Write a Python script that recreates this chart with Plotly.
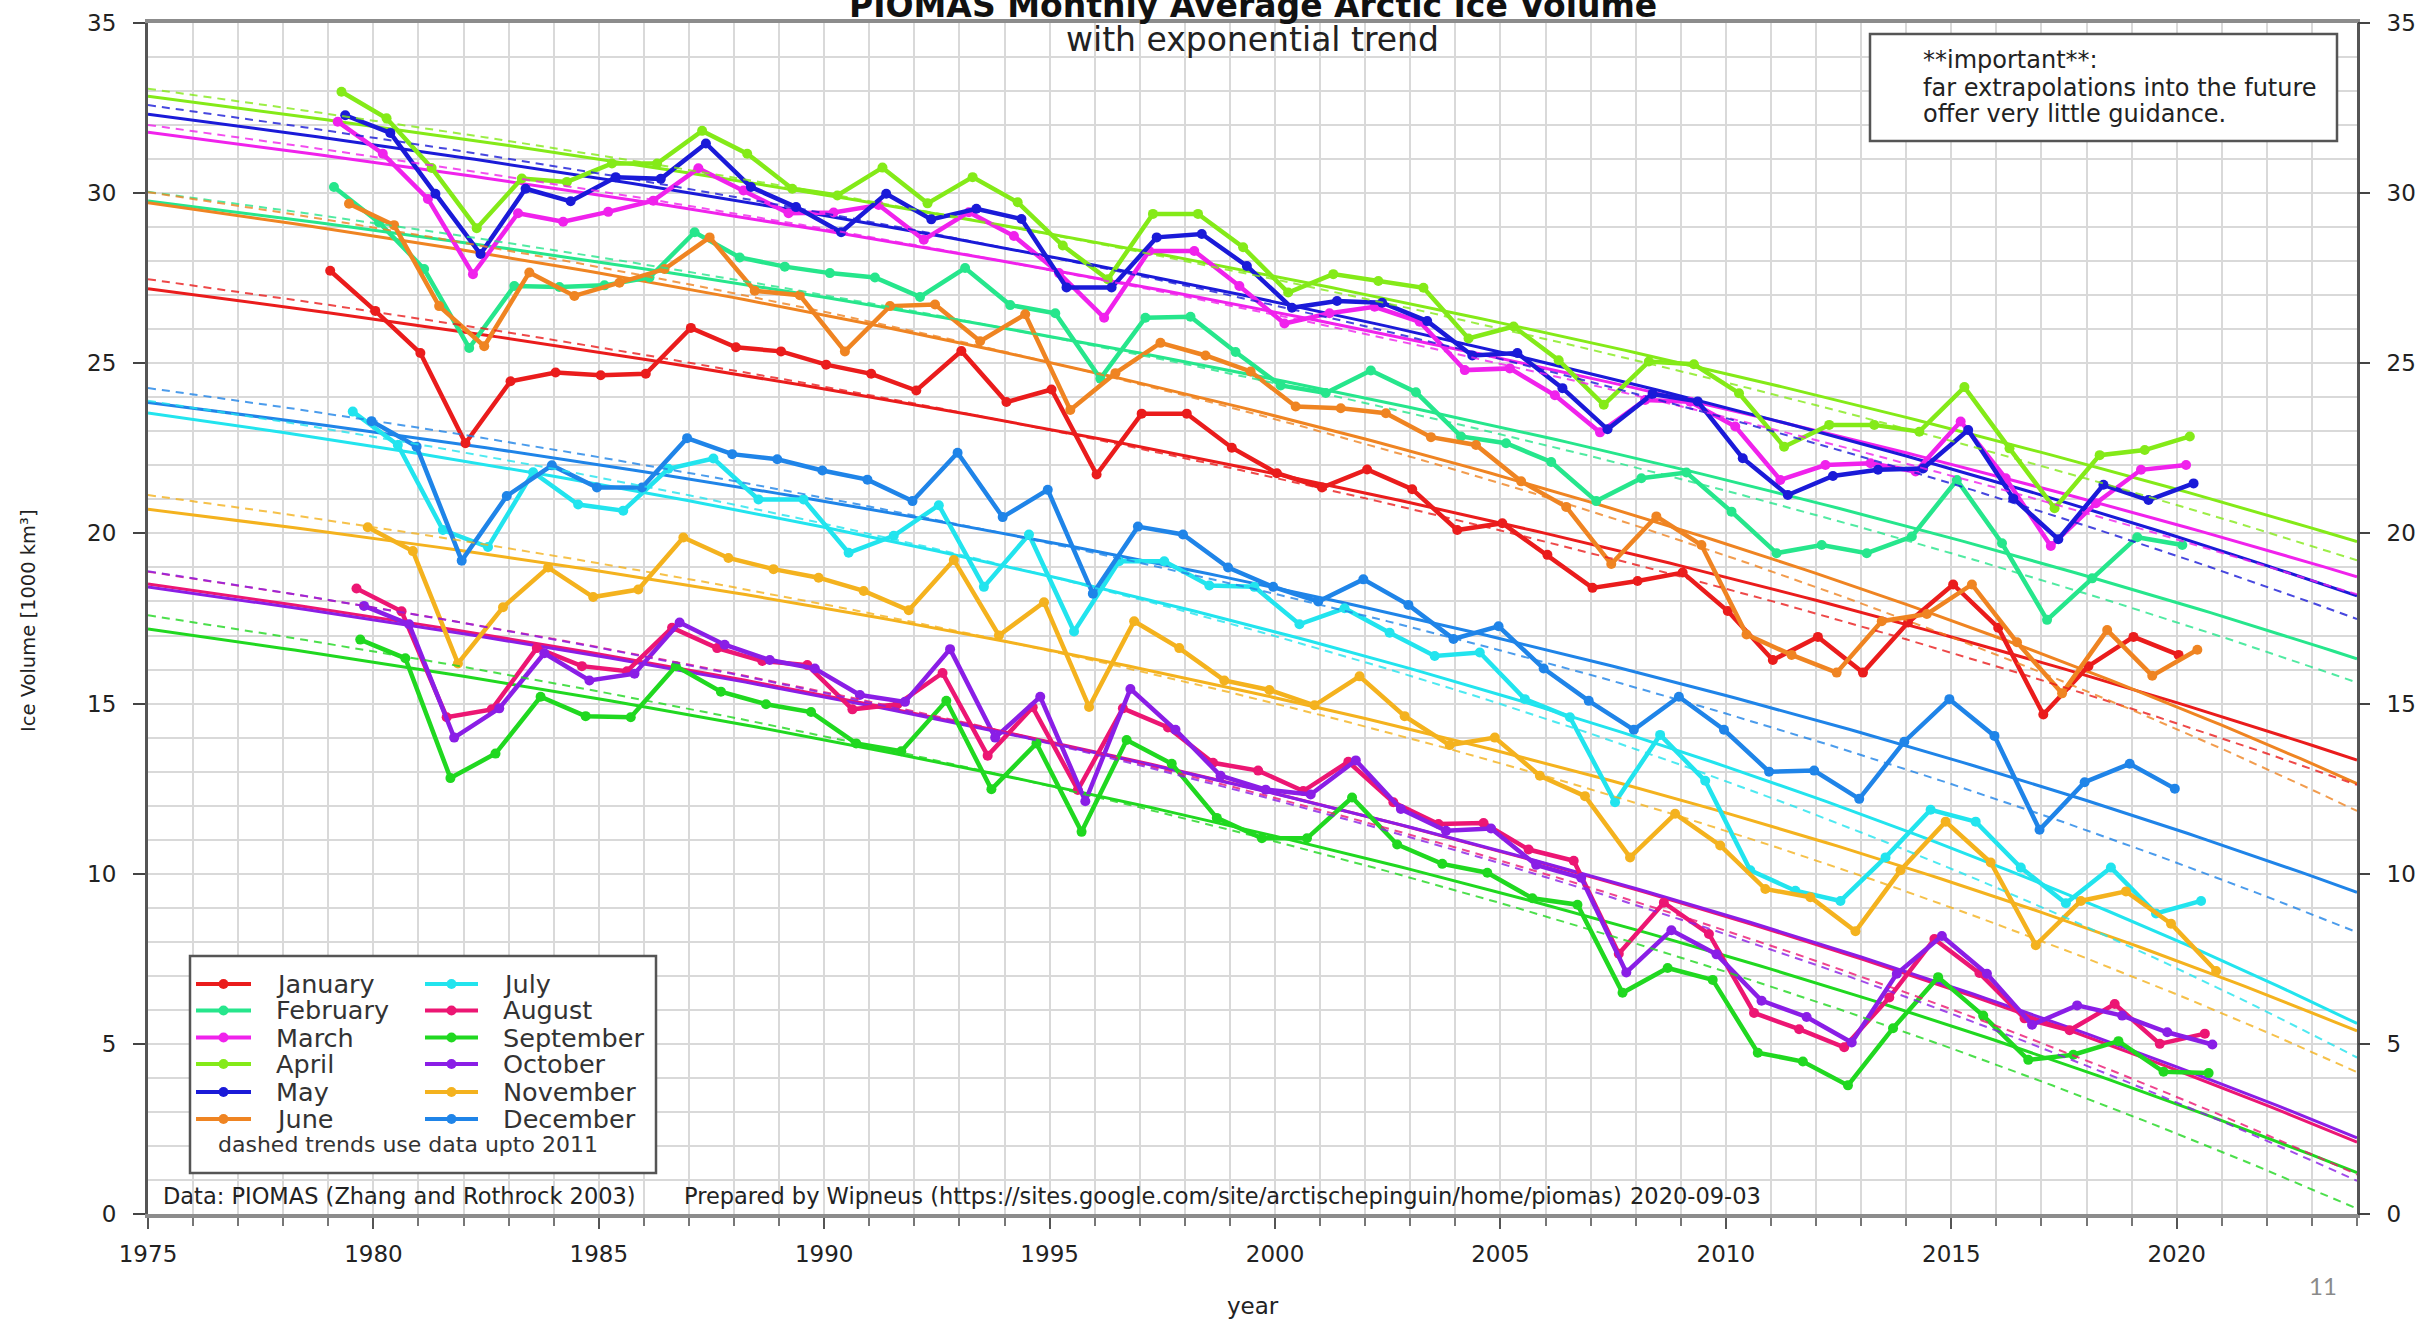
import numpy as np
import plotly.graph_objects as go

# ---------------- data ----------------
years = list(range(1979, 2021))
month_names = ["January", "February", "March", "April", "May", "June",
               "July", "August", "September", "October", "November", "December"]

jan = [27.72, 26.54, 25.3, 22.65, 24.47, 24.73, 24.65, 24.69, 26.04, 25.47,
       25.35, 24.96, 24.69, 24.2, 25.36, 23.86, 24.23, 21.73, 23.52, 23.52,
       22.52, 21.77, 21.35, 21.88, 21.3, 20.1, 20.3, 19.37, 18.4, 18.6,
       18.85, 17.72, 16.28, 16.96, 15.91, 17.38, 18.5, 17.23, 14.68, 16.1,
       16.96, 16.43]
feb = [30.18, 29.14, 27.77, 25.45, 27.27, 27.24, 27.29, 27.52, 28.85, 28.11,
       27.84, 27.65, 27.52, 26.95, 27.8, 26.71, 26.47, 24.55, 26.34, 26.37,
       25.33, 24.35, 24.13, 24.79, 24.15, 22.85, 22.65, 22.1, 20.95, 21.62,
       21.79, 20.64, 19.42, 19.66, 19.42, 19.91, 21.57, 19.71, 17.46, 18.68,
       19.89, 19.66]
mar = [32.1, 31.16, 29.83, 27.62, 29.41, 29.16, 29.45, 29.78, 30.73, 30.08,
       29.41, 29.43, 29.65, 28.63, 29.44, 28.74, 27.65, 26.34, 28.3, 28.3,
       27.27, 26.17, 26.47, 26.66, 26.22, 24.8, 24.85, 24.06, 22.97, 23.92,
       23.87, 23.14, 21.57, 22.01, 22.06, 21.82, 23.29, 21.62, 19.63, 20.89,
       21.87, 22.01]
apr = [32.98, 32.2, 30.74, 28.97, 30.43, 30.33, 30.87, 30.87, 31.83, 31.16,
       30.13, 29.93, 30.75, 29.7, 30.47, 29.73, 28.46, 27.47, 29.39, 29.39,
       28.41, 27.08, 27.62, 27.42, 27.22, 25.73, 26.08, 25.09, 23.78, 25.05,
       24.97, 24.12, 22.55, 23.19, 23.19, 22.99, 24.3, 22.5, 20.74, 22.3,
       22.45, 22.85]
may = [32.29, 31.77, 29.98, 28.21, 30.13, 29.76, 30.47, 30.42, 31.46, 30.18,
       29.59, 28.85, 29.98, 29.23, 29.54, 29.24, 27.23, 27.23, 28.7, 28.8,
       27.86, 26.63, 26.83, 26.78, 26.24, 25.23, 25.3, 24.27, 23.06, 24.1,
       23.88, 22.21, 21.13, 21.69, 21.87, 21.91, 23.04, 21.03, 19.83, 21.43,
       20.98, 21.47]
jun = [29.69, 29.06, 26.68, 25.5, 27.67, 26.98, 27.37, 27.77, 28.7, 27.13,
       27.0, 25.35, 26.68, 26.73, 25.65, 26.44, 23.63, 24.71, 25.6, 25.23,
       24.76, 23.73, 23.68, 23.53, 22.83, 22.6, 21.53, 20.78, 19.1, 20.5,
       19.66, 17.03, 16.43, 15.91, 17.42, 17.63, 18.5, 16.8, 15.3, 17.16,
       15.82, 16.58]
jul = [23.58, 22.6, 20.1, 19.6, 21.8, 20.85, 20.67, 21.9, 22.2, 21.0,
       21.0, 19.43, 19.93, 20.83, 18.43, 19.97, 17.12, 19.18, 19.18, 18.47,
       18.43, 17.33, 17.8, 17.08, 16.4, 16.5, 15.13, 14.6, 12.1, 14.08,
       12.73, 10.1, 9.5, 9.2, 10.48, 11.88, 11.53, 10.18, 9.13, 10.18,
       8.83, 9.2]
aug = [18.38, 17.71, 14.6, 14.83, 16.63, 16.1, 15.95, 17.23, 16.63, 16.25,
       16.13, 14.83, 14.98, 15.9, 13.47, 14.89, 12.46, 14.86, 14.3, 13.26,
       13.03, 12.43, 13.29, 12.1, 11.46, 11.49, 10.71, 10.38, 7.65, 9.15,
       8.23, 5.91, 5.43, 4.9, 6.36, 8.08, 7.08, 5.75, 5.4, 6.17,
       5.0, 5.3]
sep = [16.88, 16.33, 12.81, 13.53, 15.2, 14.63, 14.6, 16.1, 15.35, 14.98,
       14.75, 13.83, 13.6, 15.08, 12.48, 13.83, 11.23, 13.93, 13.23, 11.64,
       11.04, 11.04, 12.24, 10.86, 10.29, 10.03, 9.28, 9.09, 6.5, 7.23,
       6.88, 4.74, 4.48, 3.78, 5.46, 6.96, 5.83, 4.53, 4.68, 5.08,
       4.18, 4.14]
oct_ = [17.87, 17.33, 14.0, 14.86, 16.48, 15.68, 15.88, 17.38, 16.73, 16.28,
        16.03, 15.25, 15.05, 16.6, 14.0, 15.2, 12.13, 15.43, 14.23, 12.88,
        12.47, 12.33, 13.33, 11.9, 11.26, 11.33, 10.26, 9.88, 7.1, 8.34,
        7.63, 6.27, 5.79, 5.04, 7.06, 8.17, 7.06, 5.56, 6.13, 5.83,
        5.34, 4.98]
nov = [20.18, 19.48, 16.18, 17.83, 19.0, 18.13, 18.35, 19.88, 19.28, 18.95,
       18.7, 18.31, 17.74, 19.22, 17.0, 17.98, 14.9, 17.42, 16.63, 15.68,
       15.4, 14.95, 15.8, 14.63, 13.78, 14.0, 12.88, 12.28, 10.48, 11.76,
       10.83, 9.55, 9.31, 8.31, 10.1, 11.53, 10.33, 7.9, 9.2, 9.48,
       8.53, 7.14]
dec = [23.3, 22.55, 19.2, 21.1, 22.0, 21.35, 21.35, 22.8, 22.33, 22.18,
       21.85, 21.58, 20.95, 22.37, 20.48, 21.28, 18.23, 20.2, 19.97, 19.0,
       18.43, 18.0, 18.65, 17.9, 16.9, 17.27, 16.03, 15.08, 14.23, 15.2,
       14.23, 13.0, 13.03, 12.2, 13.88, 15.13, 14.05, 11.29, 12.69, 13.23,
       12.5]

series = [jan, feb, mar, apr, may, jun, jul, aug, sep, oct_, nov, dec]
colors = ["#EA1C1C", "#26E68C", "#F022EC", "#84EA18", "#1A1AD8", "#EF8422",
          "#22E4EE", "#EC1673", "#20D820", "#8A1EE6", "#F4B21E", "#1F84E8"]
trend_cutoff = 2011


# ---------------- exponential trend  y = a + b*exp(c*(t-2000)) ----------------
def fit_ab(t, y, c):
    b = np.exp(c * (t - 2000.0))
    A = np.vstack([np.ones_like(b), b]).T
    coef = np.linalg.lstsq(A, y, rcond=None)[0]
    return coef, float(np.sum((A @ coef - y) ** 2))


def fit_exp(t, y):
    t = np.asarray(t, float)
    y = np.asarray(y, float)
    best = None
    for c in np.linspace(0.0005, 0.3, 600):
        coef, sse = fit_ab(t, y, c)
        if best is None or sse < best[0]:
            best = (sse, c, coef)
    return best[1], best[2]


def eval_exp(c, coef, tt):
    return coef[0] + coef[1] * np.exp(c * (tt - 2000.0))


FONT = "DejaVu Sans"
W, H = 2433, 1322
L, R, T, B = 148, 76, 23, 108
PW, PH = W - L - R, H - T - B


def px(X):
    return (X - L) / PW


def py(Y):
    return (H - B - Y) / PH


fig = go.Figure()
tt = np.linspace(1975, 2024, 197)

fits = []
for i, vals in enumerate(series):
    yrs = np.array(years[:len(vals)], float)
    x = yrs + (i + 0.5) / 12.0
    c, coef = fit_exp(x, vals)
    m = yrs <= trend_cutoff
    coef_d, _ = fit_ab(x[m], np.array(vals, float)[m], c)
    fits.append((x, c, coef, coef_d))

# solid trends (all data)
for i, (x, c, coef, coef_d) in enumerate(fits):
    fig.add_trace(go.Scatter(x=tt, y=eval_exp(c, coef, tt), mode="lines",
                             line=dict(color=colors[i], width=3),
                             showlegend=False, hoverinfo="skip"))

# monthly data
for i, vals in enumerate(series):
    x = fits[i][0]
    fig.add_trace(go.Scatter(x=x, y=vals, mode="lines+markers", name=month_names[i],
                             line=dict(color=colors[i], width=4.5),
                             marker=dict(color=colors[i], size=10),
                             showlegend=False))

# dashed trends (data up to 2011)
for i, (x, c, coef, coef_d) in enumerate(fits):
    fig.add_trace(go.Scatter(x=tt, y=eval_exp(c, coef_d, tt), mode="lines",
                             line=dict(color=colors[i], width=2, dash="8px,6px"),
                             opacity=0.8, yaxis="y2",
                             showlegend=False, hoverinfo="skip"))

grid = "#D9D9D9"
tickfont = dict(family=FONT, size=23, color="#222")
fig.update_layout(
    width=W, height=H,
    margin=dict(l=L, r=R, t=T, b=B, autoexpand=False),
    paper_bgcolor="white", plot_bgcolor="white",
    showlegend=False,
    xaxis=dict(range=[1975, 2024], tick0=1975, dtick=5, ticks="outside", ticklen=11,
               tickwidth=2, tickcolor="#555", showgrid=True, gridcolor=grid, gridwidth=1.5,
               minor=dict(tick0=1975, dtick=1, ticks="outside", ticklen=8, tickwidth=1.5,
                          tickcolor="#777", showgrid=True, gridcolor=grid, gridwidth=1.5),
               showline=True, linecolor="#8C8C8C", linewidth=4, mirror=True,
               zeroline=False, tickfont=tickfont, ticklabelstandoff=5),
    yaxis=dict(range=[0, 35], tick0=0, dtick=5, ticks="outside", ticklen=12, tickwidth=2,
               tickcolor="#444", showgrid=True, gridcolor=grid, gridwidth=1.5,
               minor=dict(dtick=1, showgrid=True, gridcolor=grid, gridwidth=1.5),
               showline=True, linecolor="#555", linewidth=3, mirror=True,
               zeroline=False, tickfont=tickfont, ticklabelstandoff=12),
    yaxis2=dict(range=[0, 35], tick0=0, dtick=5, overlaying="y", side="right",
                ticks="outside", ticklen=12, tickwidth=2, tickcolor="#444",
                showgrid=False, showline=False, zeroline=False,
                tickfont=tickfont, ticklabelstandoff=12),
)

ann = []
# title & subtitle
ann.append(dict(text="<b>PIOMAS Monthly Average Arctic Ice Volume</b>", x=0.5, y=py(6),
                xref="paper", yref="paper", xanchor="center", yanchor="middle",
                showarrow=False, font=dict(family=FONT, size=33, color="#111")))
ann.append(dict(text="with exponential trend", x=0.5, y=py(39),
                xref="paper", yref="paper", xanchor="center", yanchor="middle",
                showarrow=False, font=dict(family=FONT, size=33, color="#222")))
# axis titles
ann.append(dict(text="Ice Volume [1000 km³]", x=px(28), y=py(621), textangle=-90,
                xref="paper", yref="paper", xanchor="center", yanchor="middle",
                showarrow=False, font=dict(family=FONT, size=19.5, color="#222")))
ann.append(dict(text="year", x=0.5, y=py(1306),
                xref="paper", yref="paper", xanchor="center", yanchor="middle",
                showarrow=False, font=dict(family=FONT, size=23, color="#222")))
# page number
ann.append(dict(text="11", x=px(2323), y=py(1285),
                xref="paper", yref="paper", xanchor="center", yanchor="middle",
                showarrow=False, font=dict(family="Lato", size=24, color="#8A8A8A")))

# important note box
shapes = [dict(type="rect", xref="paper", yref="paper", x0=px(1870), x1=px(2337),
               y0=py(141), y1=py(34), fillcolor="white",
               line=dict(color="#555", width=2.5), layer="above")]
for txt, yy in [("**important**:", 60), ("far extrapolations into the future", 88),
                ("offer very little guidance.", 114)]:
    ann.append(dict(text=txt, x=px(1921), y=py(yy), xref="paper", yref="paper",
                    xanchor="left", yanchor="middle", showarrow=False,
                    font=dict(family=FONT, size=24, color="#222")))

# credits line
for txt, xx in [("Data: PIOMAS (Zhang and Rothrock 2003)", 161),
                ("Prepared by Wipneus (https://sites.google.com/site/arctischepinguin/home/piomas)", 682),
                ("2020-09-03", 1628)]:
    ann.append(dict(text=txt, x=px(xx), y=py(1196), xref="paper", yref="paper",
                    xanchor="left", yanchor="middle", showarrow=False,
                    font=dict(family=FONT, size=22.5, color="#222")))

# legend (two columns) drawn inside a framed box
shapes.append(dict(type="rect", xref="paper", yref="paper", x0=px(190), x1=px(656),
                   y0=py(1173), y1=py(956), fillcolor="white",
                   line=dict(color="#555", width=2.5), layer="above"))
row_y = [984, 1010.5, 1037.5, 1064, 1092, 1119]
cols = [(196, 251, 274), (425, 478, 501)]
for i, name in enumerate(month_names):
    c0, c1, tx = cols[i // 6]
    yy = row_y[i % 6]
    shapes.append(dict(type="line", xref="paper", yref="paper", x0=px(c0), x1=px(c1),
                       y0=py(yy), y1=py(yy), line=dict(color=colors[i], width=4),
                       layer="above"))
    cx = (c0 + c1) / 2
    r = 5
    shapes.append(dict(type="circle", xref="paper", yref="paper",
                       x0=px(cx - r), x1=px(cx + r), y0=py(yy + r), y1=py(yy - r),
                       fillcolor=colors[i], line=dict(color=colors[i], width=0),
                       layer="above"))
    ann.append(dict(text=name, x=px(tx), y=py(yy), xref="paper", yref="paper",
                    xanchor="left", yanchor="middle", showarrow=False,
                    font=dict(family=FONT, size=25.5, color="#333")))
ann.append(dict(text="dashed trends use data upto 2011", x=px(216), y=py(1144),
                xref="paper", yref="paper", xanchor="left", yanchor="middle",
                showarrow=False, font=dict(family=FONT, size=22, color="#333")))

fig.update_layout(annotations=ann, shapes=shapes)

fig.write_html("out.html", config={"displayModeBar": False},
               post_script="document.body.style.margin='0px';")
